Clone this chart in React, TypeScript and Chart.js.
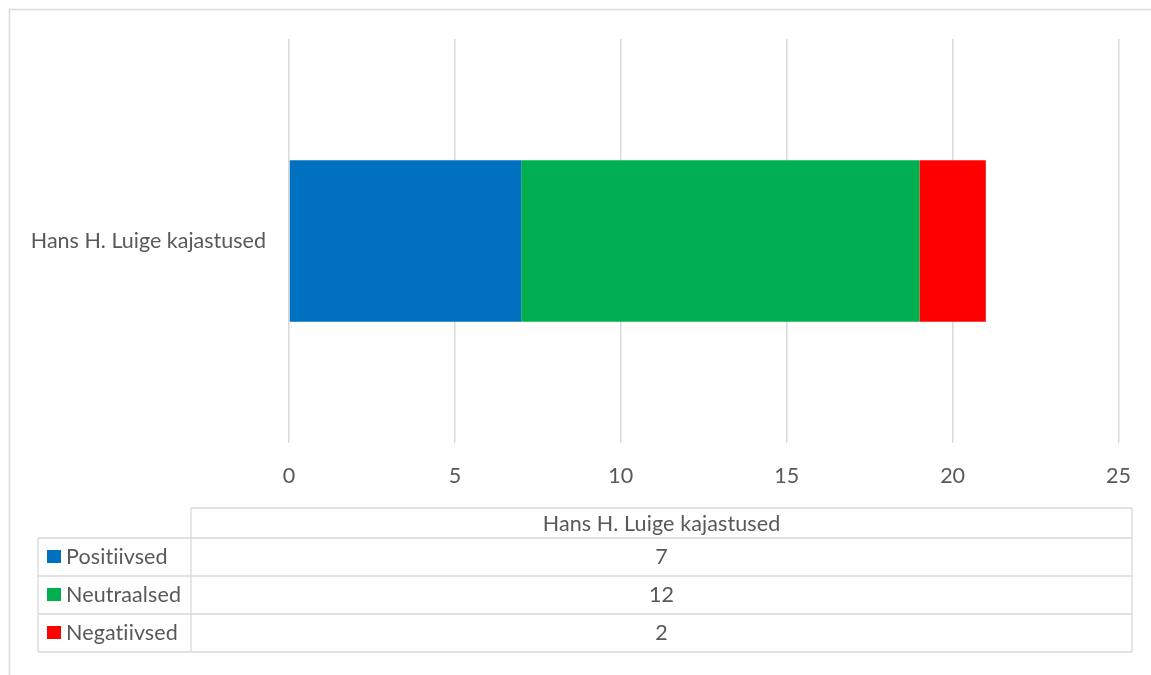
import React, { useEffect, useRef } from "react";
import { Chart, registerables } from "chart.js";

Chart.register(...registerables);

const categories = ["Hans H. Luige kajastused"];
const seriesNames = ["Positiivsed", "Neutraalsed", "Negatiivsed"];
const positiivsed = [7];
const neutraalsed = [12];
const negatiivsed = [2];
const seriesColors = ["#0070C0", "#00B050", "#FF0000"];
const xTicks = [0, 5, 10, 15, 20, 25];

const FONT = "Lato, 'Open Sans', sans-serif";
const FONT_SIZE = 21.5;
const TEXT = "#595959";
const LINE = "#D9D9D9";

// Outer frame of the chart object
const framePlugin = {
  id: "frame",
  beforeDraw(chart: Chart) {
    const ctx = chart.ctx;
    ctx.save();
    ctx.fillStyle = "#ffffff";
    ctx.fillRect(0, 0, chart.width, chart.height);
    ctx.strokeStyle = LINE;
    ctx.lineWidth = 1.5;
    ctx.strokeRect(9.5, 9.5, chart.width + 20, chart.height + 20);
    ctx.restore();
  },
};

// Data table under the axis, with legend keys in the first column
const dataTablePlugin = {
  id: "dataTable",
  afterDraw(chart: Chart) {
    const ctx = chart.ctx as any;
    const left = 38;
    const split = 191;
    const right = 1132;
    const top = 508;
    const rowH = 38;
    const headH = 30;
    const rows = chart.data.datasets.length;
    const bottom = top + headH + rows * rowH;
    const mid = (split + right) / 2;

    ctx.save();
    ctx.strokeStyle = LINE;
    ctx.lineWidth = 1.3;
    ctx.beginPath();
    // header cell
    ctx.moveTo(split, top);
    ctx.lineTo(right, top);
    ctx.moveTo(split, top);
    ctx.lineTo(split, bottom);
    ctx.moveTo(right, top);
    ctx.lineTo(right, bottom);
    ctx.moveTo(left, top + headH);
    ctx.lineTo(left, bottom);
    for (let i = 0; i <= rows; i++) {
      const y = top + headH + i * rowH;
      ctx.moveTo(left, y);
      ctx.lineTo(right, y);
    }
    ctx.stroke();

    ctx.font = `${FONT_SIZE}px ${FONT}`;
    // a tiny spacing keeps the "ti" pairs from merging into a ligature
    ctx.letterSpacing = "0.1px";
    ctx.fillStyle = TEXT;
    ctx.textBaseline = "middle";
    ctx.textAlign = "center";
    ctx.fillText(String(chart.data.labels?.[0] ?? ""), mid, top + headH / 2 + 1);

    chart.data.datasets.forEach((ds: any, i: number) => {
      const cy = top + headH + i * rowH + rowH / 2;
      ctx.fillStyle = ds.backgroundColor as string;
      ctx.fillRect(47, cy - 7, 14, 13);
      ctx.fillStyle = TEXT;
      ctx.textAlign = "left";
      ctx.fillText(String(ds.label), 66, cy);
      ctx.textAlign = "center";
      ctx.fillText(String(ds.data[0]), mid, cy);
    });
    ctx.restore();
  },
};

export default function App() {
  const canvasRef = useRef<HTMLCanvasElement | null>(null);

  useEffect(() => {
    if (!canvasRef.current) return;
    const chart = new Chart(canvasRef.current, {
      type: "bar",
      data: {
        labels: categories,
        datasets: [positiivsed, neutraalsed, negatiivsed].map((d, i) => ({
          label: seriesNames[i],
          data: d,
          backgroundColor: seriesColors[i],
          borderWidth: 0,
          categoryPercentage: 0.8,
          barPercentage: 0.5,
        })),
      },
      options: {
        indexAxis: "y",
        animation: false,
        responsive: false,
        maintainAspectRatio: false,
        layout: { padding: { left: 0, top: 39, right: 32, bottom: 0 } },
        plugins: {
          legend: { display: false },
          tooltip: { enabled: false },
        },
        scales: {
          x: {
            stacked: true,
            min: 0,
            max: 25,
            afterBuildTicks(scale: any) {
              scale.ticks = xTicks.map((v) => ({ value: v }));
            },
            afterFit(scale: any) {
              scale.height = 675 - 443;
            },
            grid: { color: LINE, lineWidth: 1.5, drawTicks: false },
            border: { display: false },
            ticks: {
              padding: 20,
              color: TEXT,
              font: { family: FONT, size: FONT_SIZE },
            },
          },
          y: {
            stacked: true,
            afterFit(scale: any) {
              scale.width = 289;
            },
            grid: { display: false, drawTicks: false },
            border: { display: false },
            ticks: {
              padding: 23,
              color: TEXT,
              font: { family: FONT, size: FONT_SIZE },
            },
          },
        },
      },
      plugins: [framePlugin, dataTablePlugin],
    });
    return () => chart.destroy();
  }, []);

  return (
    <div style={{ position: "absolute", left: 0, top: 0, width: 1151, height: 675 }}>
      <canvas ref={canvasRef} width={1151} height={675} style={{ width: 1151, height: 675 }} />
    </div>
  );
}
